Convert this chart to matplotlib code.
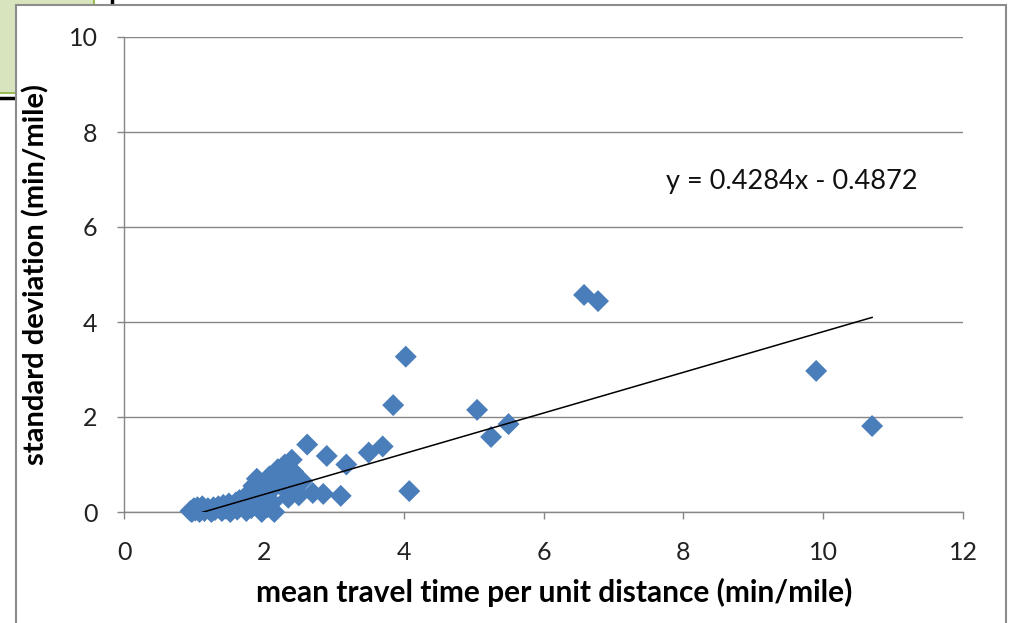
import matplotlib
matplotlib.use("Agg")
import matplotlib.pyplot as plt
from matplotlib.patches import Rectangle
from matplotlib.lines import Line2D

# Mean travel time per unit distance vs. its standard deviation (min/mile)
mean_tt = [0.95, 0.97, 1.00, 1.02, 1.05, 1.08, 1.10, 1.12, 1.15, 1.20,
           1.25, 1.28, 1.30, 1.35, 1.40, 1.42, 1.45, 1.50, 1.52, 1.55,
           1.60, 1.62, 1.65, 1.70, 1.72, 1.75, 1.78, 1.80, 1.82, 1.85,
           1.87, 1.90, 1.92, 1.95, 1.97, 2.00, 2.02, 2.05, 2.08, 2.10,
           2.12, 2.15, 2.20, 2.25, 2.30, 2.32, 2.35, 2.40, 2.42, 2.45,
           2.50, 2.55, 2.62, 2.70, 2.85, 2.90, 3.10, 3.18, 3.50, 3.70,
           3.85, 4.03, 4.08, 5.05, 5.25, 5.50, 6.58, 6.78, 9.90, 10.70]
std_dev = [0.02, 0.00, 0.08, 0.03, 0.10, 0.00, 0.05, 0.12, 0.02, 0.08,
           0.00, 0.10, 0.04, 0.12, 0.02, 0.15, 0.07, 0.18, 0.00, 0.10,
           0.20, 0.05, 0.25, 0.12, 0.30, 0.02, 0.18, 0.40, 0.08, 0.55,
           0.28, 0.70, 0.15, 0.45, 0.00, 0.60, 0.30, 0.10, 0.75, 0.45,
           0.20, 0.00, 0.90, 0.55, 1.00, 0.75, 0.30, 1.10, 0.85, 0.50,
           0.35, 0.65, 1.42, 0.40, 0.38, 1.18, 0.34, 1.00, 1.25, 1.38,
           2.25, 3.27, 0.44, 2.15, 1.58, 1.85, 4.57, 4.44, 2.97, 1.81]

# Linear trendline
slope = 0.4284
intercept = -0.4872
equation = "y = 0.4284x - 0.4872"

x_ticks = [0, 2, 4, 6, 8, 10, 12]
y_ticks = [0, 2, 4, 6, 8, 10]

W, H = 1010, 623
fig = plt.figure(figsize=(W / 100, H / 100), dpi=100)
fig.patch.set_facecolor("white")

# Page elements around the chart
fig.add_artist(Rectangle((-0.01, 1 - 93 / H), 104 / W, 0.2,
                         transform=fig.transFigure, facecolor="#d7e4bd",
                         edgecolor="#9bbb59", linewidth=1.5, zorder=0))
fig.add_artist(Line2D([112 / W, 112 / W], [1, 1 - 6 / H],
                      transform=fig.transFigure, color="black", lw=2.5, zorder=0.5))
fig.add_artist(Line2D([0, 16 / W], [1 - 98 / H, 1 - 98 / H],
                      transform=fig.transFigure, color="black", lw=2.5, zorder=0.5))
fig.add_artist(Rectangle((16 / W, -0.05), 990 / W, 1.05 - 5 / H,
                         transform=fig.transFigure, facecolor="white",
                         edgecolor="#8c8c8c", linewidth=1.5, zorder=1))

ax = fig.add_axes([124 / W, 1 - 512 / H, (963 - 124) / W, (512 - 37) / H])
ax.set_zorder(2)
ax.patch.set_alpha(0)

ax.set_xlim(0, 12)
ax.set_ylim(0, 10)
ax.set_xticks(x_ticks)
ax.set_yticks(y_ticks)

for s in ("top", "right"):
    ax.spines[s].set_visible(False)
for s in ("left", "bottom"):
    ax.spines[s].set_color("#868686")
    ax.spines[s].set_linewidth(1.0)
    ax.spines[s].set_clip_on(False)

ax.yaxis.grid(True, color="#868686", linewidth=1.0)
ax.set_axisbelow(True)

font = "Lato"
ax.tick_params(axis="both", direction="out", length=5, width=1.0,
               color="#868686", labelsize=18, labelcolor="#222222")
ax.tick_params(axis="x", pad=16)
ax.tick_params(axis="y", pad=14)
for lbl in ax.get_xticklabels() + ax.get_yticklabels():
    lbl.set_fontfamily(font)

ax.scatter(mean_tt, std_dev, marker="D", s=125, color="#4a7ebb",
           edgecolors="none", zorder=3, clip_on=False)

x0, x1 = min(mean_tt), max(mean_tt)
ax.plot([x0, x1], [slope * x0 + intercept, slope * x1 + intercept],
        color="black", linewidth=1.1, zorder=4)

ax.text(7.75, 6.95, equation, fontsize=19.5, family=font, color="#111111",
        ha="left", va="center")

ax.set_xlabel("mean travel time per unit distance (min/mile)", fontsize=21.5,
              fontweight="bold", family=font, labelpad=10)
ax.xaxis.set_label_coords(0.513, -0.138)
ax.set_ylabel("standard deviation (min/mile)", fontsize=21,
              fontweight="bold", family=font, labelpad=14)

fig.savefig("out.png", dpi=100, facecolor="white")
